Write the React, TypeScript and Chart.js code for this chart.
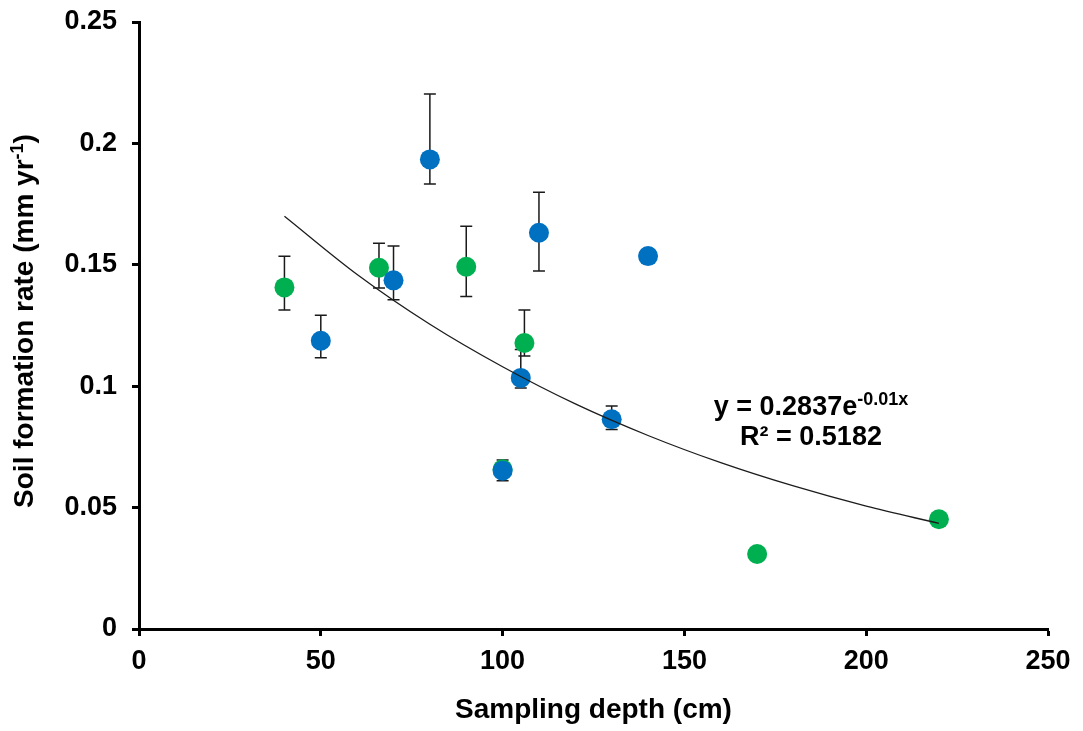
import React, { useEffect, useRef } from "react";
import { Chart, registerables } from "chart.js";

Chart.register(...registerables);

// ---- Data ----
const blueDepth = [50, 70, 80, 100, 105, 110, 130, 140];
const blueRate = [0.1187, 0.1436, 0.1934, 0.0652, 0.1034, 0.1632, 0.0864, 0.1536];
const blueErrLow = [0.1117, 0.1356, 0.1833, 0.0611, 0.0993, 0.1474, 0.0822, null];
const blueErrHigh = [0.1292, 0.1577, 0.2203, 0.0696, 0.1151, 0.1799, 0.0918, null];

const greenDepth = [40, 66, 90, 100, 106, 170, 220];
const greenRate = [0.1407, 0.1488, 0.1492, 0.0658, 0.1178, 0.0309, 0.0452];
const greenErrLow = [0.1314, 0.1404, 0.1369, null, 0.1124, null, null];
const greenErrHigh = [0.1535, 0.1589, 0.1659, null, 0.1314, null, null];

// exponential trend line
const trendDepth = [40, 60, 80, 100, 120, 140, 160, 180, 200, 220];
const trendRate = [0.170, 0.146, 0.1255, 0.108, 0.0927, 0.0797, 0.0685, 0.0589, 0.0506, 0.0435];

const xTickLabels = ["0", "50", "100", "150", "200", "250"];
const yTickLabels = ["0", "0.05", "0.1", "0.15", "0.2", "0.25"];

const xTitle = "Sampling depth (cm)";
const yTitleMain = "Soil formation rate (mm yr";
const yTitleSup = "-1";
const yTitleEnd = ")";
const eqMain = "y = 0.2837e";
const eqSup = "-0.01x";
const r2Text = "R² = 0.5182";

const FONT = "'Liberation Sans', Arial, sans-serif";

export default function App() {
  const ref = useRef<HTMLCanvasElement>(null);

  useEffect(() => {
    document.body.style.margin = "0";
    const canvas = ref.current;
    if (!canvas) return;

    const toPts = (xs: number[], ys: number[]) => xs.map((x, i) => ({ x, y: ys[i] }));

    const extras = {
      id: "extras",
      beforeDatasetsDraw(chart: any) {
        const { ctx, scales } = chart;
        const xs = scales.x;
        const ys = scales.y;
        ctx.save();
        ctx.strokeStyle = "#1a1a1a";
        ctx.lineWidth = 1.5;
        const draw = (d: number[], lo: (number | null)[], hi: (number | null)[]) => {
          for (let i = 0; i < d.length; i++) {
            const l = lo[i];
            const h = hi[i];
            if (l == null || h == null) continue;
            const px = xs.getPixelForValue(d[i]);
            const p1 = ys.getPixelForValue(l);
            const p2 = ys.getPixelForValue(h);
            ctx.beginPath();
            ctx.moveTo(px, p1);
            ctx.lineTo(px, p2);
            ctx.moveTo(px - 6, p1);
            ctx.lineTo(px + 6, p1);
            ctx.moveTo(px - 6, p2);
            ctx.lineTo(px + 6, p2);
            ctx.stroke();
          }
        };
        draw(greenDepth, greenErrLow, greenErrHigh);
        draw(blueDepth, blueErrLow, blueErrHigh);
        ctx.restore();
      },
      afterDraw(chart: any) {
        const { ctx } = chart;
        ctx.save();
        ctx.fillStyle = "#000";
        ctx.textBaseline = "alphabetic";
        ctx.textAlign = "left";

        // Equation
        const cx = 811;
        ctx.font = `bold 27px ${FONT}`;
        const w1 = ctx.measureText(eqMain).width;
        ctx.font = `bold 18px ${FONT}`;
        const w2 = ctx.measureText(eqSup).width;
        const sx = cx - (w1 + w2) / 2;
        ctx.font = `bold 27px ${FONT}`;
        ctx.fillText(eqMain, sx, 415);
        ctx.font = `bold 18px ${FONT}`;
        ctx.fillText(eqSup, sx + w1, 405);
        ctx.font = `bold 27px ${FONT}`;
        ctx.textAlign = "center";
        ctx.fillText(r2Text, cx, 445);

        // Y-axis title (rotated, with superscript)
        ctx.textAlign = "left";
        ctx.translate(33, 321);
        ctx.rotate(-Math.PI / 2);
        ctx.font = `bold 28px ${FONT}`;
        const a = ctx.measureText(yTitleMain).width;
        const c = ctx.measureText(yTitleEnd).width;
        ctx.font = `bold 18px ${FONT}`;
        const b = ctx.measureText(yTitleSup).width;
        const start = -(a + b + c) / 2;
        ctx.font = `bold 28px ${FONT}`;
        ctx.fillText(yTitleMain, start, 0);
        ctx.font = `bold 18px ${FONT}`;
        ctx.fillText(yTitleSup, start + a, -10);
        ctx.font = `bold 28px ${FONT}`;
        ctx.fillText(yTitleEnd, start + a + b, 0);
        ctx.restore();
      },
    };

    const chart = new Chart(canvas, {
      type: "scatter",
      data: {
        datasets: [
          {
            label: "trend",
            data: toPts(trendDepth, trendRate),
            showLine: true,
            borderColor: "#1c1c1c",
            borderWidth: 1.3,
            pointRadius: 0,
            cubicInterpolationMode: "monotone",
            fill: false,
          } as any,
          {
            label: "blue",
            data: toPts(blueDepth, blueRate),
            backgroundColor: "#0070C0",
            borderWidth: 0,
            pointRadius: 10,
          },
          {
            label: "green",
            data: toPts(greenDepth, greenRate),
            backgroundColor: "#00B050",
            borderWidth: 0,
            pointRadius: 10,
          },
        ],
      },
      options: {
        animation: false,
        responsive: false,
        maintainAspectRatio: false,
        layout: { padding: { top: 22, right: 35, bottom: 0, left: 0 } },
        plugins: {
          legend: { display: false },
          tooltip: { enabled: false },
        },
        scales: {
          x: {
            type: "linear",
            min: 0,
            max: 250,
            ticks: {
              stepSize: 50,
              color: "#000",
              padding: 9,
              font: { family: FONT, size: 27, weight: "bold" },
              callback: (_v: any, i: number) => xTickLabels[i],
            },
            grid: {
              display: true,
              drawOnChartArea: false,
              drawTicks: true,
              tickLength: 7,
              tickWidth: 3,
              tickColor: "#000",
            },
            border: { display: true, color: "#000", width: 3 },
            title: {
              display: true,
              text: xTitle,
              color: "#000",
              font: { family: FONT, size: 28, weight: "bold" },
              padding: { top: 0, bottom: 4 },
            },
            afterFit: (s: any) => {
              s.height = 102;
            },
          },
          y: {
            type: "linear",
            min: 0,
            max: 0.25,
            ticks: {
              stepSize: 0.05,
              color: "#000",
              padding: 15,
              font: { family: FONT, size: 27, weight: "bold", lineHeight: 0.4 },
              callback: (_v: any, i: number) => yTickLabels[i],
            },
            grid: {
              display: true,
              drawOnChartArea: false,
              drawTicks: true,
              tickLength: 7,
              tickWidth: 3,
              tickColor: "#000",
            },
            border: { display: true, color: "#000", width: 3 },
            title: { display: false },
            afterFit: (s: any) => {
              s.width = 139;
            },
          },
        },
      } as any,
      plugins: [extras],
    });

    return () => chart.destroy();
  }, []);

  return (
    <div style={{ width: 1083, height: 731 }}>
      <canvas ref={ref} width={1083} height={731} style={{ width: 1083, height: 731, display: "block" }} />
    </div>
  );
}
